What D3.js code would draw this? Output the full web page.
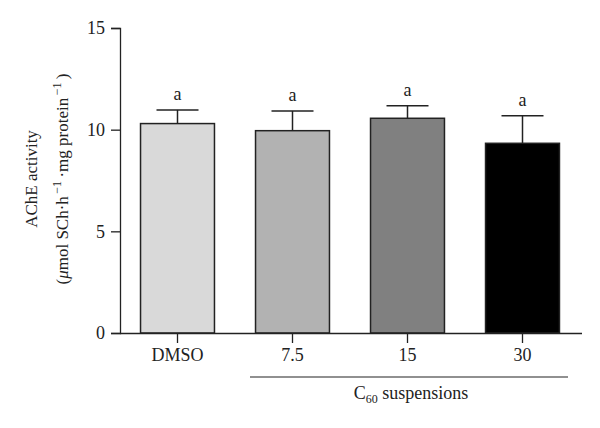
<!DOCTYPE html>
<html lang="en">
<head>
    <meta charset="UTF-8">
    <title>AChE activity</title>
    <script src="https://d3js.org/d3.v7.min.js"></script>
    <style>
        html, body { margin: 0; background: #fff; }
        text { font-family: "Liberation Serif", "DejaVu Serif", serif; fill: #222; }
    </style>
</head>
<body>
<div class="chart"></div>
<script>
    var groups = ["DMSO", "7.5", "15", "30"];
    var means = [10.3, 9.95, 10.56, 9.33];
    var sem = [0.67, 0.97, 0.62, 1.36];
    var letters = ["a", "a", "a", "a"];
    var fills = ["#d9d9d9", "#b2b2b2", "#808080", "#000000"];
    var yTicks = [0, 5, 10, 15];

    var width = 600, height = 428;
    var fs = 18;
    var svg = d3.select(".chart").append("svg").attr("width", width).attr("height", height);

    var x = d3.scaleBand().domain(groups).range([120, 580])
        .paddingInner(0.357).paddingOuter(0.1785);
    var y = d3.scaleLinear().domain([0, 15]).range([333, 28]);

    // bars
    svg.selectAll("rect.bar").data(groups).enter().append("rect")
        .attr("class", "bar")
        .attr("x", function (d) { return x(d); })
        .attr("y", function (d, i) { return y(means[i]); })
        .attr("width", x.bandwidth())
        .attr("height", function (d, i) { return y(0) - y(means[i]); })
        .attr("fill", function (d, i) { return fills[i]; })
        .attr("stroke", "#222").attr("stroke-width", 1.5);

    // error bars (upper only)
    var err = svg.append("g").attr("stroke", "#222").attr("stroke-width", 1.5);
    groups.forEach(function (g, i) {
        var cx = x(g) + x.bandwidth() / 2;
        err.append("line").attr("x1", cx).attr("x2", cx)
            .attr("y1", y(means[i])).attr("y2", y(means[i] + sem[i]));
        err.append("line").attr("x1", cx - 21).attr("x2", cx + 21)
            .attr("y1", y(means[i] + sem[i])).attr("y2", y(means[i] + sem[i]));
        svg.append("text").attr("x", cx).attr("y", y(means[i] + sem[i]) - 10)
            .attr("text-anchor", "middle").attr("font-size", fs).text(letters[i]);
    });

    // axes
    var yAxis = d3.axisLeft(y).tickValues(yTicks).tickSize(9).tickPadding(6);
    svg.append("g").attr("transform", "translate(120,0)").call(yAxis)
        .call(function (g) {
            g.select(".domain").attr("stroke", "#222").attr("stroke-width", 1.3);
            g.selectAll(".tick line").attr("stroke", "#222").attr("stroke-width", 1.3);
            g.selectAll(".tick text").attr("font-size", fs)
                .attr("font-family", "Liberation Serif, serif").attr("fill", "#222");
        });

    var xAxis = d3.axisBottom(x).tickSize(10).tickPadding(5).tickSizeOuter(0);
    svg.append("g").attr("transform", "translate(0,333)").call(xAxis)
        .call(function (g) {
            g.select(".domain").attr("stroke", "#222").attr("stroke-width", 1.3)
                .attr("d", "M120,0.5H582");
            g.selectAll(".tick line").attr("stroke", "#222").attr("stroke-width", 1.3);
            g.selectAll(".tick text").attr("font-size", fs)
                .attr("font-family", "Liberation Serif, serif").attr("fill", "#222");
        });

    // bracket for C60 suspensions
    svg.append("line").attr("x1", 250).attr("x2", 568).attr("y1", 377).attr("y2", 377)
        .attr("stroke", "#222").attr("stroke-width", 1.2);
    var c60 = svg.append("text").attr("x", 411).attr("y", 399)
        .attr("text-anchor", "middle").attr("font-size", fs);
    c60.append("tspan").text("C");
    c60.append("tspan").attr("font-size", 12).attr("dy", 4).text("60");
    c60.append("tspan").attr("dy", -4).text(" suspensions");

    // y label
    var yl = svg.append("g").attr("transform", "translate(0,179) rotate(-90)")
        .attr("font-size", 17);
    yl.append("text").attr("x", 0).attr("y", 37).attr("text-anchor", "middle")
        .text("AChE activity");
    var l2 = yl.append("text").attr("x", 0).attr("y", 68).attr("text-anchor", "middle");
    l2.append("tspan").text("(");
    l2.append("tspan").attr("font-style", "italic").text("\u03bc");
    l2.append("tspan").text("mol SCh\u00b7h");
    l2.append("tspan").attr("font-size", 12).attr("dy", -7).text("\u2009\u22121");
    l2.append("tspan").attr("dy", 7).text("\u2009\u00b7mg protein");
    l2.append("tspan").attr("font-size", 12).attr("dy", -7).text("\u2009\u22121");
    l2.append("tspan").attr("dy", 7).text("\u2009)");
</script>
</body>
</html>
